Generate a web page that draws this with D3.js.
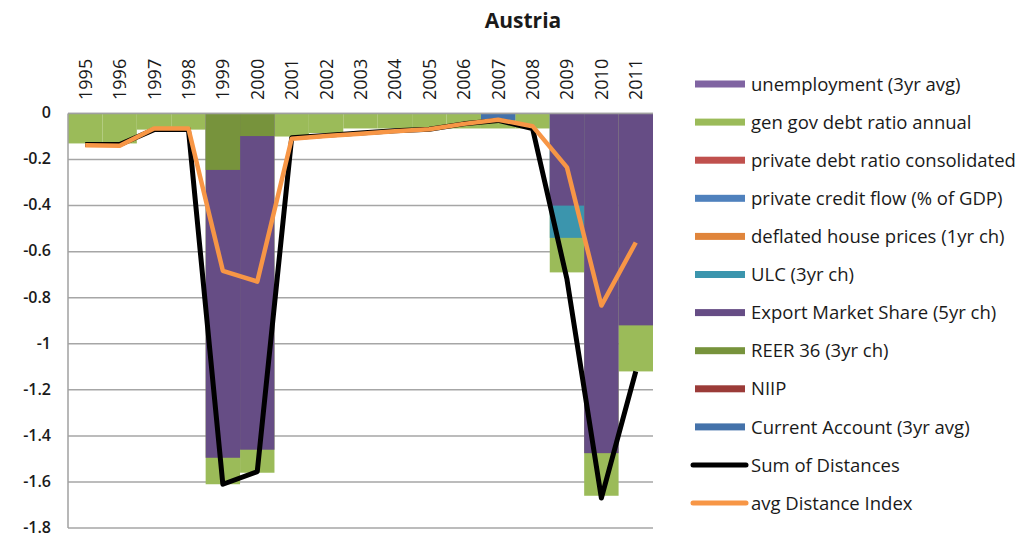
<!DOCTYPE html>
<html>
<head>
<meta charset="utf-8">
<script src="https://cdn.jsdelivr.net/npm/d3@7"></script>
<style>
  body { margin: 0; background: #fff; }
  text { font-family: "Open Sans", Lato, sans-serif; fill: #1a1a1a; }
</style>
</head>
<body>
<div id="chart"></div>
<script>
// values
const years = ["1995","1996","1997","1998","1999","2000","2001","2002","2003","2004","2005","2006","2007","2008","2009","2010","2011"];

const unemployment   = [0,0,0,0,0,0,0,0,0,0,0,0,0,0,0,0,0];
const genGovDebt     = [-0.13,-0.13,-0.07,-0.07,-1.61,-1.56,-0.10,-0.085,-0.065,-0.065,-0.065,-0.065,-0.065,-0.065,-0.69,-1.66,-1.12];
const privateDebt    = [0,0,0,0,0,0,0,0,0,0,0,0,0,0,0,0,0];
const privateCredit  = [0,0,0,0,0,0,0,0,0,0,0,0,0,0,0,0,0];
const housePrices    = [0,0,0,0,0,0,0,0,0,0,0,0,0,0,0,0,0];
const ulc            = [0,0,0,0,0,0,0,0,0,0,0,0,0,0,-0.54,0,0];
const exportShare    = [0,0,0,0,-1.495,-1.46,0,0,0,0,0,0,0,0,-0.40,-1.475,-0.92];
const reer           = [0,0,0,0,-0.245,-0.098,0,0,0,0,0,0,0,0,0,0,0];
const niip           = [0,0,0,0,0,0,0,0,0,0,0,0,0,0,0,0,0];
const currentAccount = [0,0,0,0,0,0,0,0,0,0,0,0,-0.03,0,0,0,0];

const sumDistances = [-0.135,-0.135,-0.07,-0.07,-1.61,-1.555,-0.105,-0.095,-0.085,-0.075,-0.068,-0.045,-0.03,-0.065,-0.72,-1.67,-1.12];
const avgDistance  = [-0.138,-0.14,-0.065,-0.065,-0.683,-0.73,-0.11,-0.098,-0.088,-0.077,-0.068,-0.045,-0.027,-0.055,-0.234,-0.834,-0.56];

const yTicks = [0,-0.2,-0.4,-0.6,-0.8,-1,-1.2,-1.4,-1.6,-1.8];

// bars overlap (each drawn from zero), later series on top
const barSeries = [
  {name: "unemployment (3yr avg)", color: "#8064A2", values: unemployment},
  {name: "gen gov debt ratio annual", color: "#9BBB59", values: genGovDebt},
  {name: "private debt ratio consolidated", color: "#C0504D", values: privateDebt},
  {name: "private credit flow (% of GDP)", color: "#4F81BD", values: privateCredit},
  {name: "deflated house prices (1yr ch)", color: "#E0853B", values: housePrices},
  {name: "ULC (3yr ch)", color: "#3B95AD", values: ulc},
  {name: "Export Market Share (5yr ch)", color: "#664D85", values: exportShare},
  {name: "REER 36 (3yr ch)", color: "#77933C", values: reer},
  {name: "NIIP", color: "#9B3B38", values: niip},
  {name: "Current Account (3yr avg)", color: "#4472AA", values: currentAccount}
];
const lineSeries = [
  {name: "Sum of Distances", color: "#000000", width: 5, values: sumDistances},
  {name: "avg Distance Index", color: "#F79646", width: 4.5, values: avgDistance}
];

const W = 1030, H = 538;
const svg = d3.select("#chart").append("svg").attr("width", W).attr("height", H);

const x = d3.scaleBand().domain(years).range([68, 653]).padding(0);
const y = d3.scaleLinear().domain([-1.8, 0]).range([528, 113.5]);

// gridlines
svg.append("g").selectAll("line")
  .data(yTicks)
  .enter()
  .append("line")
  .attr("x1", 68).attr("x2", 653)
  .attr("y1", d => y(d)).attr("y2", d => y(d))
  .attr("stroke", "#a6a6a6").attr("stroke-width", 1.5)

// bars
barSeries.forEach(s => {
  svg.append("g").selectAll("rect")
    .data(s.values.map((v, i) => ({year: years[i], v: v})).filter(d => d.v !== 0))
    .enter()
    .append("rect")
    .attr("x", d => x(d.year))
    .attr("width", x.bandwidth())
    .attr("y", d => y(Math.max(0, d.v)))
    .attr("height", d => Math.abs(y(d.v) - y(0)))
    .attr("fill", s.color)
})

// left axis line + top line
svg.append("line").attr("x1", 68).attr("x2", 68).attr("y1", y(0)).attr("y2", y(-1.8))
  .attr("stroke", "#a0a0a0").attr("stroke-width", 1.5)
svg.append("line").attr("x1", 68).attr("x2", 653).attr("y1", y(0)).attr("y2", y(0))
  .attr("stroke", "#a0a0a0").attr("stroke-width", 1.5)

// lines
lineSeries.forEach(s => {
  let line = d3.line()
    .x((d, i) => x(years[i]) + x.bandwidth() / 2)
    .y(d => y(d))
  svg.append("path")
    .datum(s.values)
    .attr("d", line)
    .attr("fill", "none")
    .attr("stroke", s.color)
    .attr("stroke-width", s.width)
    .attr("stroke-linejoin", "round")
})

// y labels
svg.append("g").selectAll("text")
  .data(yTicks)
  .enter()
  .append("text")
  .attr("x", 51)
  .attr("y", d => y(d))
  .attr("dy", "0.3em")
  .attr("text-anchor", "end")
  .attr("font-size", 16)
  .attr("font-weight", 600)
  .text(d => d3.format("")(d).replace("−", "-"))

// year labels, rotated
svg.append("g").selectAll("text")
  .data(years)
  .enter()
  .append("text")
  .attr("transform", d => `translate(${x(d) + x.bandwidth() / 2 + 6.5},100) rotate(-90)`)
  .attr("font-size", 18)
  .attr("text-anchor", "start")
  .text(d => d)

// title
svg.append("text")
  .attr("x", 523).attr("y", 28)
  .attr("text-anchor", "middle")
  .attr("font-size", 21)
  .attr("font-weight", "bold")
  .text("Austria")

// legend
const legendItems = barSeries.map(s => ({name: s.name, color: s.color, type: "bar"}))
  .concat(lineSeries.map(s => ({name: s.name, color: s.color, type: "line"})));
const lg = svg.append("g").selectAll("g")
  .data(legendItems)
  .enter()
  .append("g")
  .attr("transform", (d, i) => `translate(0,${84 + i * 38.1})`)

lg.filter(d => d.type === "bar").append("rect")
  .attr("x", 695).attr("y", -3.5).attr("width", 50).attr("height", 7)
  .attr("fill", d => d.color)
lg.filter(d => d.type === "line").append("line")
  .attr("x1", 693).attr("x2", 746).attr("y1", 0).attr("y2", 0)
  .attr("stroke", d => d.color).attr("stroke-width", 5).attr("stroke-linecap", "round")
lg.append("text")
  .attr("x", 751).attr("y", 0).attr("dy", "0.36em")
  .attr("font-size", 18.5)
  .text(d => d.name)
</script>
</body>
</html>
